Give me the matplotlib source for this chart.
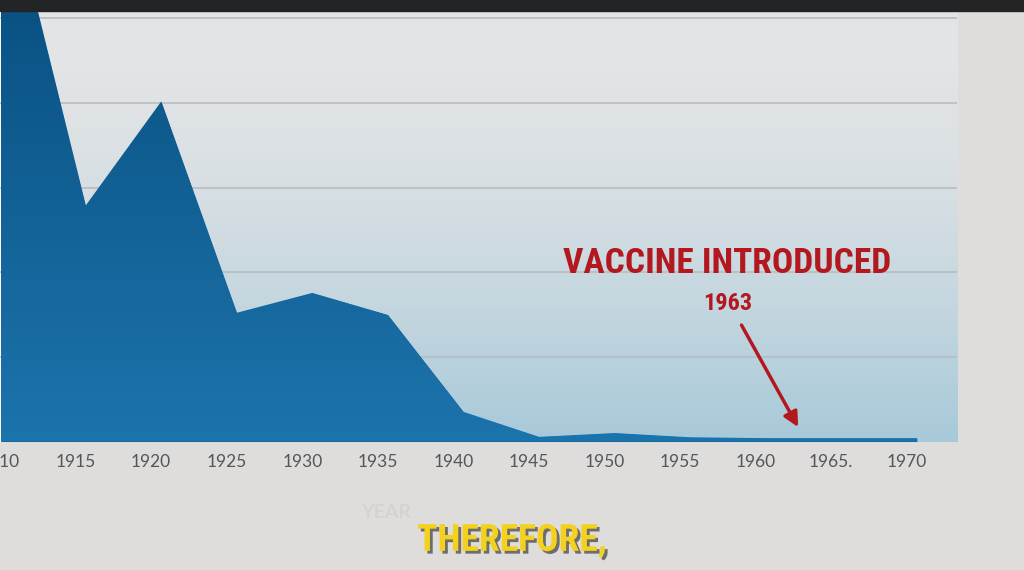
import matplotlib
matplotlib.use("Agg")
import matplotlib.pyplot as plt
from matplotlib.patches import Rectangle
import matplotlib.patheffects as pe
import numpy as np

# measles mortality (grid step = 2)
years = [1910, 1915, 1920, 1925, 1930, 1935, 1940, 1945, 1950, 1955, 1960, 1965, 1970]
rates = [12.8, 5.57, 8.03, 3.04, 3.51, 2.99, 0.70, 0.11, 0.20, 0.10, 0.08, 0.08, 0.08]
tick_years = [1910, 1915, 1920, 1925, 1930, 1935, 1940, 1945, 1950, 1955, 1960, 1965, 1970]
tick_labels = ["1910", "1915", "1920", "1925", "1930", "1935", "1940", "1945",
               "1950", "1955", "1960", "1965.", "1970"]
grid_levels = [2, 4, 6, 8, 10]
vaccine_label = "VACCINE INTRODUCED"
vaccine_year = "1963"

RED = "#b3181f"
NARROW = ["Roboto Condensed", "Roboto", "DejaVu Sans"]
XMIN, XMAX = 1909.4, 1972.66
YMAX = 10.17
LABEL_SHIFT = 0.66  # tick labels sit a bit left of the data points


def hex_rgb(h):
    h = h.lstrip("#")
    return np.array([int(h[i:i + 2], 16) / 255 for i in (0, 2, 4)])


def gradient(top, bottom, power=1.0, n=256):
    t = np.linspace(0, 1, n)[:, None] ** power
    col = hex_rgb(top) * (1 - t) + hex_rgb(bottom) * t
    return np.repeat(col[:, None, :], 2, axis=1)


fig = plt.figure(figsize=(10.24, 5.7), dpi=100)
fig.patch.set_facecolor("#dedddc")
fig.patches.append(Rectangle((0, 0.9807), 1, 0.02, transform=fig.transFigure,
                             color="#232426", zorder=0))

ax = fig.add_axes([0, 0.2254, 0.9346, 0.7553])
ext = [XMIN, XMAX, 0, YMAX]
ax.imshow(gradient("#e4e5e6", "#a7c9d9", power=1.7), extent=ext, aspect="auto",
          origin="upper", zorder=0)

# area, extended flat to the left edge so the off-chart start stays filled
xs = [XMIN] + years
ys = [rates[0]] + rates
area = ax.fill_between(xs, ys, 0, color="#135f95", lw=0, zorder=1.2)
shade = ax.imshow(gradient("#0a5284", "#1c74ac", power=1.0), extent=ext,
                  aspect="auto", origin="upper", zorder=1.5)
shade.set_clip_path(area.get_paths()[0], ax.transData)

ax.set_xlim(XMIN, XMAX)
ax.set_ylim(0, YMAX)
ax.set_yticks(grid_levels)
ax.set_yticklabels([])
ax.grid(axis="y", color="#b6babc", lw=1.1)
ax.set_axisbelow(True)
ax.set_xticks([y - LABEL_SHIFT for y in tick_years])
ax.set_xticklabels(tick_labels, family="Lato", fontsize=12.5, color="#53575a")
ax.tick_params(length=0, pad=9)
ax.tick_params(axis="y", left=False)
for s in ax.spines.values():
    s.set_visible(False)

ax.text(1957.45, 4.2, vaccine_label, ha="center", va="center", color=RED,
        family=NARROW, fontweight="bold", fontsize=25.5, zorder=3)
ax.text(1957.5, 3.25, vaccine_year, ha="center", va="center", color=RED,
        family=NARROW, fontweight="bold", fontsize=17.5, zorder=3)
ax.annotate("", xy=(1962.15, 0.34), xytext=(1958.4, 2.75),
            arrowprops=dict(arrowstyle="-|>", color=RED, lw=2.5,
                            mutation_scale=22, shrinkA=0, shrinkB=0),
            zorder=3)

fig.text(0.377, 0.1, "YEAR", ha="center", va="center", color="#d3d3d3",
         family="Lato", fontweight="bold", fontsize=14, zorder=1)
fig.text(0.5, 0.052, "THEREFORE,", ha="center", va="center", color="#f4d11c",
         family=NARROW, fontweight="bold", fontsize=27, zorder=2,
         path_effects=[pe.withSimplePatchShadow(offset=(2, -2),
                                                shadow_rgbFace="#222222",
                                                alpha=0.6)])

fig.savefig("out.png", dpi=100, facecolor=fig.get_facecolor())
